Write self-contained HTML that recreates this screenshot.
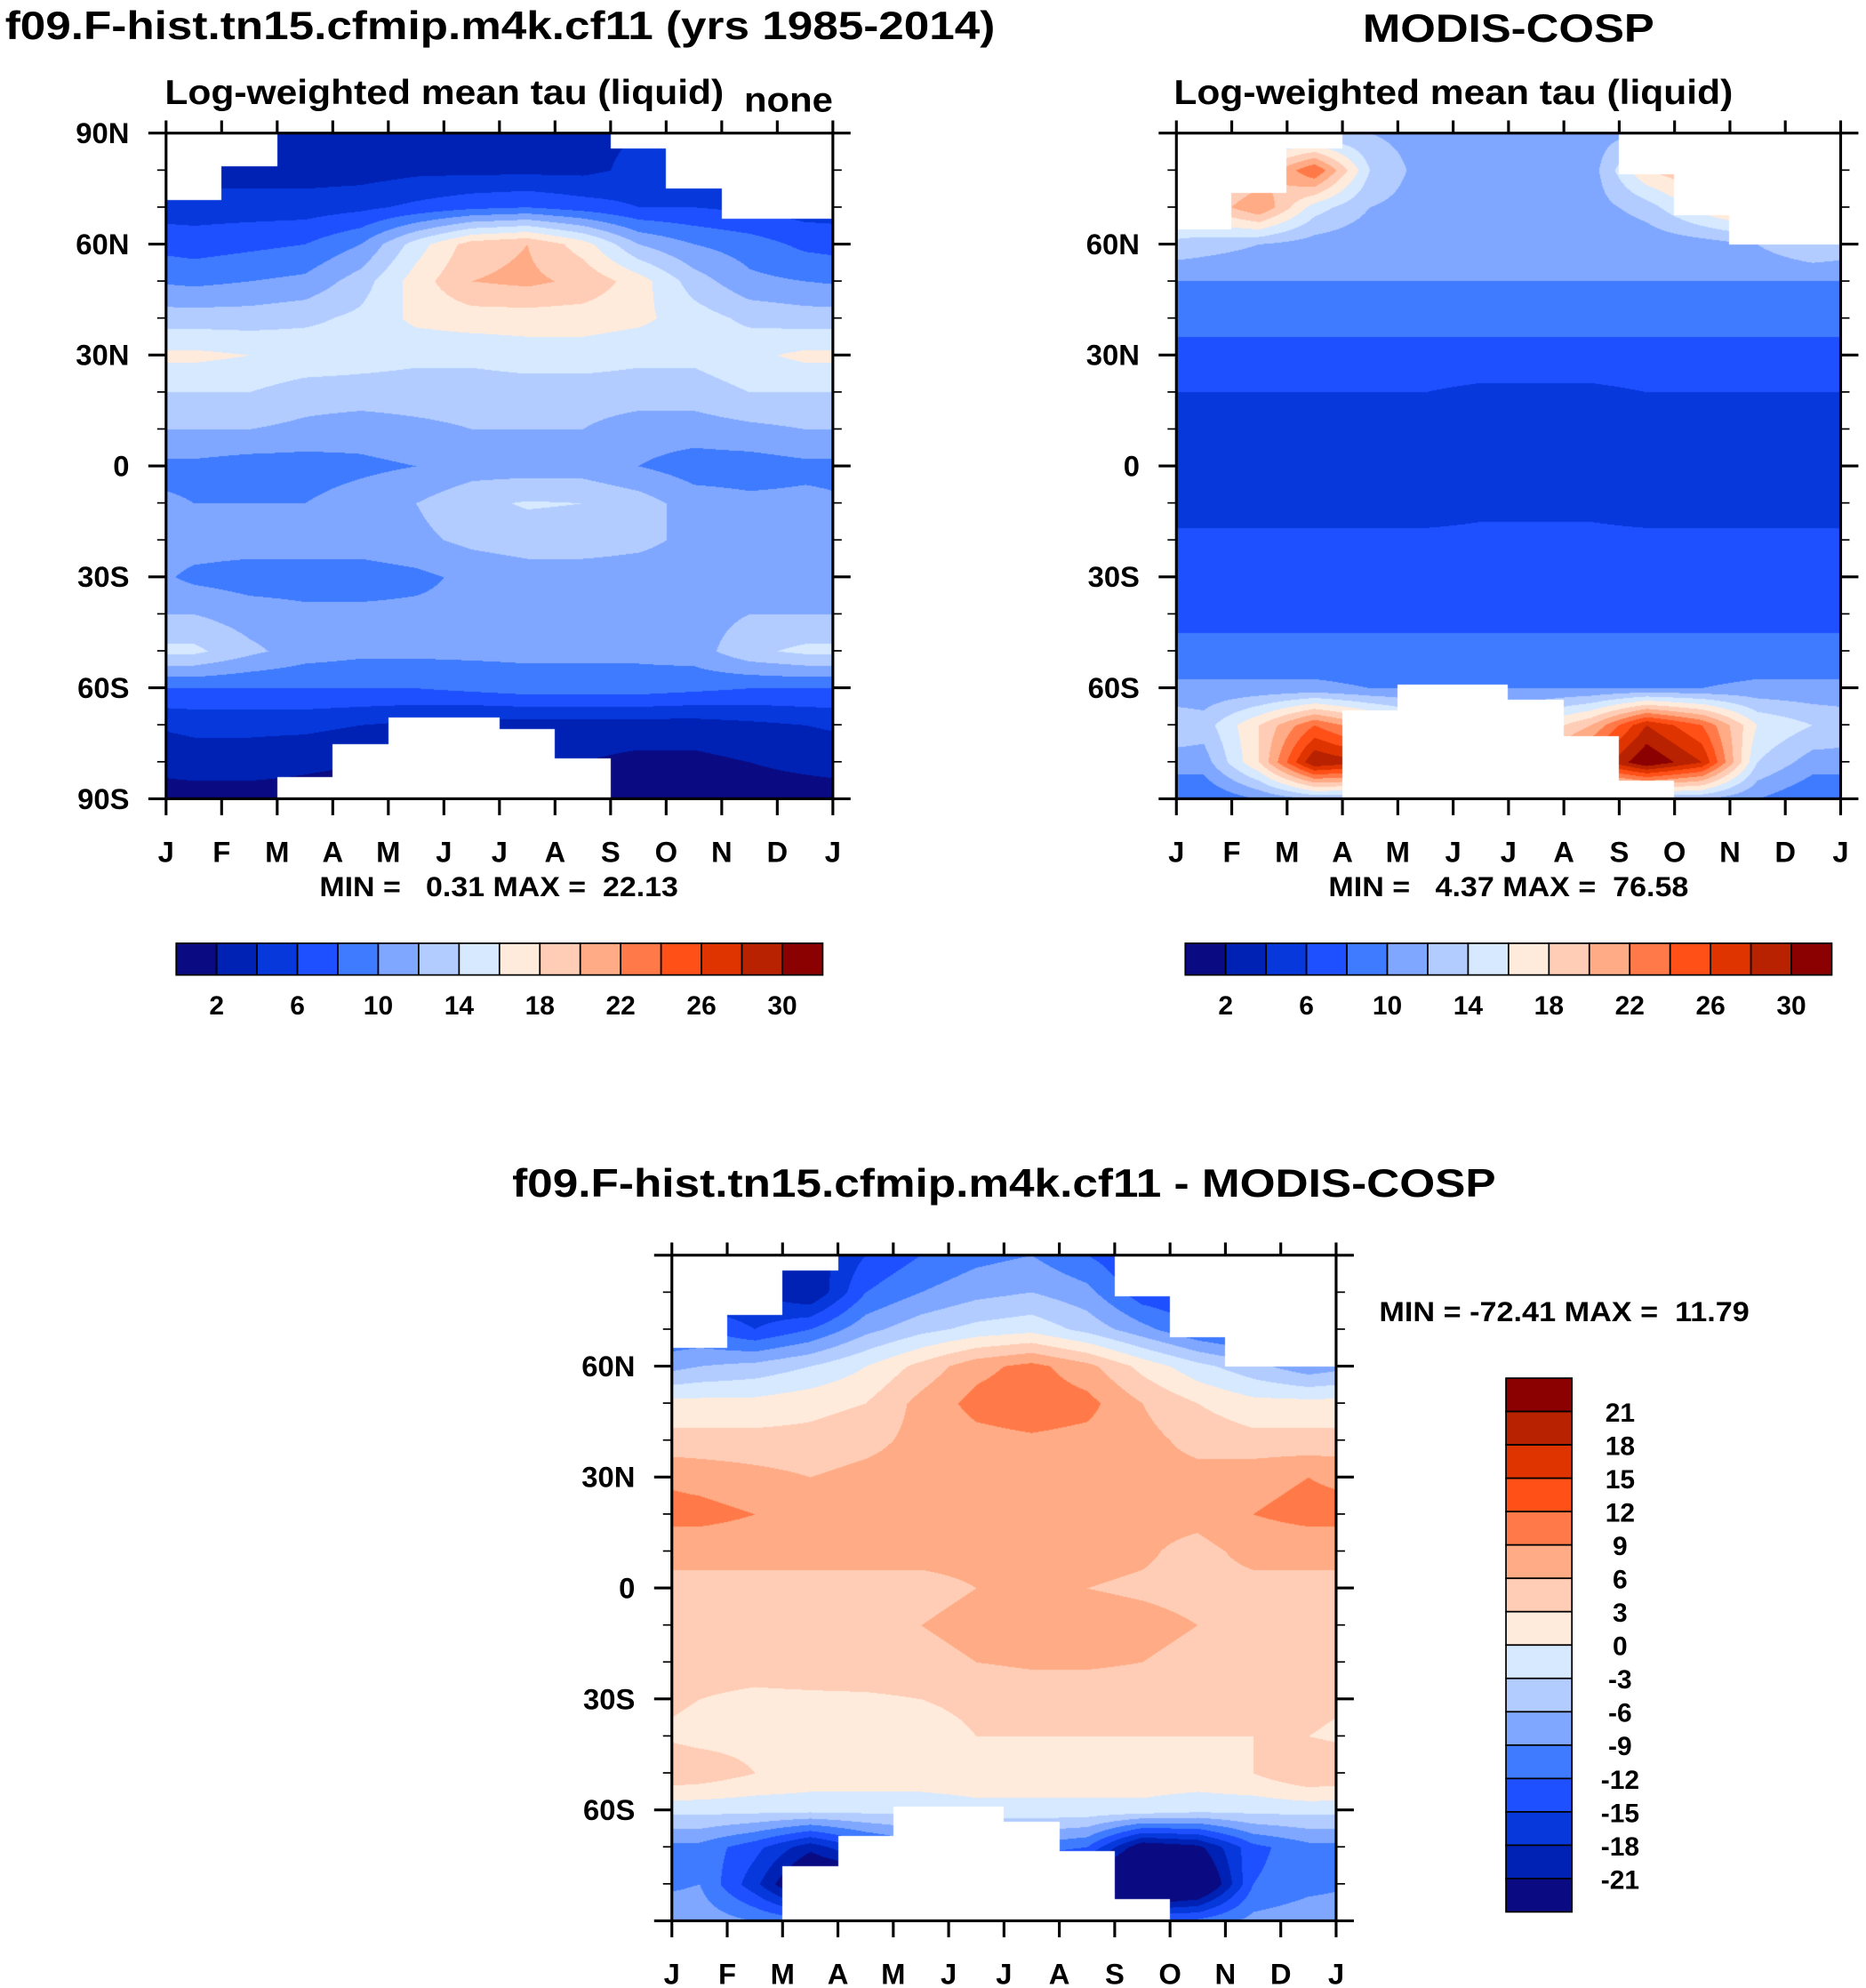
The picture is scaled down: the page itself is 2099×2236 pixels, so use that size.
<!DOCTYPE html>
<html><head><meta charset="utf-8">
<style>
html,body{margin:0;padding:0;background:#fff;}
body{width:2099px;height:2236px;position:relative;overflow:hidden;font-family:"Liberation Sans",sans-serif;}
svg{position:absolute;left:0;top:0;}
canvas{position:absolute;}
text{font-family:"Liberation Sans",sans-serif;font-weight:bold;fill:#000;white-space:pre;}
</style></head>
<body>
<canvas id="c1"></canvas>
<canvas id="c2"></canvas>
<canvas id="c3"></canvas>
<svg id="s" width="2099" height="2236" viewBox="0 0 1472 1568" preserveAspectRatio="none"></svg>
<script>
const months = ["J","F","M","A","M","J","J","A","S","O","N","D","J"];
const lats = [90,80,70,60,50,40,30,20,10,0,-10,-20,-30,-40,-50,-60,-70,-80,-90];
const palette = ["#0a0a82","#0022b4","#0638dc","#1e50ff","#3f7bff","#80a7ff","#b2ccff","#d6e9ff","#ffebdc","#ffcdb5","#ffab85","#ff7a48","#ff5018","#e03400","#b82200","#8b0000"];
const levelsAbs = [2,4,6,8,10,12,14,16,18,20,22,24,26,28,30];
const levelsDiff = [-21,-18,-15,-12,-9,-6,-3,0,3,6,9,12,15,18,21];
const absTickLabels = ["2","6","10","14","18","22","26","30"];
const diffTickLabels = ["21","18","15","12","9","6","3","0","-3","-6","-9","-12","-15","-18","-21"];
const modelVals = [
[2,2,2.5,3,3,3,3,3.5,4,4.5,5,4],
[3,3,3,3,3.5,3.5,3.5,3.5,4.5,5,5,5],
[5,5,5,5.5,6.5,7.5,8,7,6,6,5.5,5],
[7,7.5,8,10,15,19,20,17,12,10,9,7.5],
[9.5,10,10.5,13,17,20,20.5,19.5,17,13,10.5,10],
[13,13,13.5,14.5,16.5,17,17,17,16.5,15,13.5,13],
[16.5,16,15.5,15,14.5,14.5,15,15,14.5,14.5,15.5,16.5],
[14,14,13,13,13,13,13,13,13,13,14,14],
[12,12,11.5,11,11.5,12,12,12,11,11,11.5,12],
[9.5,9,9,9.5,10,11,11,11,10,9,9,9.5],
[10,10,10,11,12,13.5,14.2,14,13,11,10.5,10.5],
[11,11,11,11,11.5,12.5,13,13,12.5,11.5,11,11],
[9.5,9,9,9,9.5,10.5,11,11,11,11,11,11],
[12,11,10.5,10.5,10.5,10.5,10.5,10.5,10.5,11,12,12],
[14.5,12.5,11,10.5,10.5,10.5,10.5,10.5,10.5,11,13.5,14.5],
[8,8,8,8,8,8.5,9,9,9,8.5,8,8],
[4.5,4.5,4.5,4,3.5,3,3,3,3,3,3.5,4],
[3,3,2.5,2,2,2,2,2,1.5,1.5,2,2.5],
[1,1,1,1,1,1,1,1,1,1,1,1]];
const obsVals = [
[12,12,12,12,11,10,10,11,12,12,12,12],
[16,18,24,14,11,10,10,11,18,20,18,18],
[18,22,15,12,11,10,10,11,13,17,20,16],
[13,12,11,10.5,10,10,10,10,10.5,11,12,14],
[10,10,10,10,10,10,10,10,10,10,10,10],
[8.5,8.5,8.5,8.5,8.5,8.5,8.5,8.5,8.5,8.5,8.5,8.5],
[7.5,7.5,7.5,7.5,7.5,7.5,7.5,7.5,7.5,7.5,7.5,7.5],
[6,6,6,6,6,5.5,5.5,5.5,6,6,6,6],
[4.5,4.5,4.5,4.5,4.5,4.5,4.5,4.5,4.5,4.5,4.5,4.5],
[4.5,4.5,4.5,4.5,4.5,4.5,4.5,4.5,4.5,4.5,4.5,4.5],
[5,5,5,5,5,5.5,5.5,5.5,5,5,5,5],
[6.5,6.5,6.5,6.5,6.5,6.5,6.5,6.5,6.5,6.5,6.5,6.5],
[7,7,7,7,7,7,7,7,7,7,7,7],
[7.5,7.5,7.5,7.5,7.5,7.5,7.5,7.5,7.5,7.5,7.5,7.5],
[8.5,8.5,8.5,8.5,8.5,8.5,8.5,8.5,8.5,8.5,8.5,8.5],
[10.5,10.5,10.5,10,10,10,10,10,10,10,10.5,10.5],
[13,18,24,20,16,16,16,20,28,24,16,14],
[11,18,30,28,20,20,20,26,32,28,14,11],
[8,10,12,12,10,10,10,12,12,12,10,8]];
const diffVals = [
[-15,-18,-20,-15,-12,-10,-9,-12,-15,-15,-15,-15],
[-18,-18,-21,-12,-9,-7,-6,-8,-14,-15,-16,-16],
[-12,-15,-12,-7,-4,-2,-1,-4,-8,-12,-14,-12],
[-6,-5,-3,0,4,8,10,7,2,-2,-5,-8],
[1,1,2,3,7,10,11,10,6,3,1,1],
[4,4,4,5,7,8,8.5,8,7,5,4,4],
[8,7,6,7,7.5,7.5,8,8,7,7,8,9],
[10,9,7.5,7,7,7,8,7.5,7,7,9,10],
[7,7,7,7,7,7,7,7,6.5,5,7,7],
[5,5,5,5,5,6,6,6,5.5,5,5,5],
[4.5,4.5,5,5,6,7,7.5,7.5,7,6,5,5],
[4,4,4.5,5,5,6,6.5,6.5,6,5,4.5,4],
[3,2.5,2.5,2.5,3,3.5,4,4,4,4,4,4],
[2,2,2,2,2,3,3,3,3,3,3,3],
[5,3,2,2,2,2,2,2,2,2,3,6],
[-2,-2,-2,-2,-2,-1,-1,-1,-1,-2,-2,-2],
[-10,-14,-20,-14,-10,-10,-10,-12,-24,-22,-13,-10],
[-9,-17,-28,-28,-18,-18,-18,-26,-32,-28,-12,-10],
[-7,-9,-11,-11,-9,-9,-9,-11,-11,-11,-8,-7]];
const mask1N = [72,81,90,90,90,90,90,90,86,75,67,67];
const mask1S = [-90,-90,-84,-75,-68,-68,-71,-79,-90,-90,-90,-90];
const mask2N = [64,74,86,90,90,90,90,90,79,68,60,60];
const mask2S = [-90,-90,-90,-66,-59,-59,-63,-73,-85,-90,-90,-90];
const mask3N = [65,74,86,90,90,90,90,90,79,68,60,60];
const mask3S = [-90,-90,-75,-67,-59,-59,-63,-71,-84,-90,-90,-90];

const K = 2099/1472;
const NS = "http://www.w3.org/2000/svg";
const svg = document.getElementById('s');
function mk(tag, attrs, parent){const e=document.createElementNS(NS,tag);for(const k in attrs)e.setAttribute(k,attrs[k]);(parent||svg).appendChild(e);return e;}
function txt(x,y,s,size,anchor,name,len){const a={x:x,y:y,'font-size':size,'text-anchor':anchor||'start'};
if(len){a.textLength=len;a.lengthAdjust='spacingAndGlyphs';}
const t=mk('text',a);t.textContent=s;


return t;}
function hexRGB(h){return [parseInt(h.substr(1,2),16),parseInt(h.substr(3,2),16),parseInt(h.substr(5,2),16)];}
const palRGB = palette.map(hexRGB);

function levelIndex(v, levels){let i=0;while(i<levels.length && v>=levels[i])i++;return i;}

function sample(vals, mf, lat){
  let u = mf-0.5; let i0=Math.floor(u); let fu=u-i0;
  let a=((i0%12)+12)%12, b=(((i0+1)%12)+12)%12;
  let r = (90-lat)/10; let j0=Math.floor(r); if(j0>=18){j0=17;} if(j0<0)j0=0; let fr=r-j0;
  const v00=vals[j0][a],v01=vals[j0][b],v10=vals[j0+1][a],v11=vals[j0+1][b];
  return (v00*(1-fu)+v01*fu)*(1-fr)+(v10*(1-fu)+v11*fu)*fr;
}

function panel(cfg){
  const {x0,y0,w,h,vals,levels,mN,mS,canvasId,yLabels,name} = cfg;
  const xS = m => x0 + m/12*w;
  const yS = lat => y0 + (90-lat)/180*h;
  const cv=document.getElementById(canvasId);
  const px=Math.round(x0*K), py=Math.round(y0*K), pw=Math.round(w*K), ph=Math.round(h*K);
  cv.style.left=px+'px';cv.style.top=py+'px';cv.width=pw;cv.height=ph;
  const ctx=cv.getContext('2d');const img=ctx.createImageData(pw,ph);
  for(let yy=0;yy<ph;yy++){
    const lat=90-(yy+0.5)/ph*180;
    for(let xx=0;xx<pw;xx++){
      const mf=(xx+0.5)/pw*12; const mi=Math.min(11,Math.floor(mf));
      let c=[255,255,255];
      if(lat<=mN[mi] && lat>=mS[mi]){
        c=palRGB[Math.min(15,levelIndex(sample(vals,mf,lat),levels))];
      }
      const o=(yy*pw+xx)*4;img.data[o]=c[0];img.data[o+1]=c[1];img.data[o+2]=c[2];img.data[o+3]=255;
    }
  }
  ctx.putImageData(img,0,0);
  const g=mk('g',{});
  
  
  mk('rect',{x:x0,y:y0,width:w,height:h,fill:'none',stroke:'#000','stroke-width':2.2},g);
  for(let m=0;m<=12;m++){
    const x=xS(m);
    mk('line',{x1:x,y1:y0,x2:x,y2:y0-10,stroke:'#000','stroke-width':2.2},g);
    mk('line',{x1:x,y1:y0+h,x2:x,y2:y0+h+13,stroke:'#000','stroke-width':2.2},g);
    txt(x,y0+h+50,months[m],23,'middle',name+'-x-label');
  }
  for(let lat=-90;lat<=90;lat+=10){
    const y=yS(lat); const major=(lat%30===0); const L=major?14:7;
    mk('line',{x1:x0,y1:y,x2:x0-L,y2:y,stroke:'#000','stroke-width':major?2.2:1.2},g);
    mk('line',{x1:x0+w,y1:y,x2:x0+w+L,y2:y,stroke:'#000','stroke-width':major?2.2:1.2},g);
  }
  yLabels.forEach(l=>{txt(x0-29,yS(l.lat)+8,l.t,23,'end',name+'-y-label');});
  return {xS,yS};
}

const ylFull=[{lat:90,t:"90N"},{lat:60,t:"60N"},{lat:30,t:"30N"},{lat:0,t:"0"},{lat:-30,t:"30S"},{lat:-60,t:"60S"},{lat:-90,t:"90S"}];
const ylPart=[{lat:60,t:"60N"},{lat:30,t:"30N"},{lat:0,t:"0"},{lat:-30,t:"30S"},{lat:-60,t:"60S"}];

panel({x0:131,y0:105,w:526,h:525,vals:modelVals,levels:levelsAbs,mN:mask1N,mS:mask1S,canvasId:'c1',yLabels:ylFull,name:'model'});
panel({x0:928,y0:105,w:524,h:525,vals:obsVals,levels:levelsAbs,mN:mask2N,mS:mask2S,canvasId:'c2',yLabels:ylPart,name:'obs'});
panel({x0:530,y0:990,w:524,h:525,vals:diffVals,levels:levelsDiff,mN:mask3N,mS:mask3S,canvasId:'c3',yLabels:ylPart,name:'diff'});

txt(4,31,"f09.F-hist.tn15.cfmip.m4k.cf11 (yrs 1985-2014)",31,'start','model-title',781);
txt(130,82,"Log-weighted mean tau (liquid)",27,'start','model-subtitle',441);
txt(657,88,"none",27,'end','model-units',70);
txt(252,707,"MIN =   0.31 MAX =  22.13",22,'start','model-min-max',283);
txt(1075,33,"MODIS-COSP",31,'start','obs-title',230);
txt(926,82,"Log-weighted mean tau (liquid)",27,'start','obs-subtitle',441);
txt(1048,707,"MIN =   4.37 MAX =  76.58",22,'start','obs-min-max',284);
txt(404,944,"f09.F-hist.tn15.cfmip.m4k.cf11 - MODIS-COSP",31,'start','diff-title',776);
txt(1088,1042,"MIN = -72.41 MAX =  11.79",22,'start','diff-min-max',292);

function hbar(x0,y0,w,h,name){
  const g=mk('g',{});
  
  
  const bw=w/palette.length;
  palette.forEach((c,i)=>{mk('rect',{x:x0+i*bw,y:y0,width:bw,height:h,fill:c,stroke:'#000','stroke-width':1.2},g);});
  absTickLabels.forEach((s,k)=>{txt(x0+(2*k+1)*bw,y0+h+31,s,21,'middle',name+'-label');});
}
hbar(139,744,510,25,'model-colorbar');
hbar(935,744,510,25,'obs-colorbar');
(function(){
  const x0=1188,y0=1087,w=52,h=421;
  const g=mk('g',{});
  
  
  const bh=h/palette.length;
  for(let i=0;i<palette.length;i++){
    mk('rect',{x:x0,y:y0+i*bh,width:w,height:bh,fill:palette[palette.length-1-i],stroke:'#000','stroke-width':1.2},g);
  }
  diffTickLabels.forEach((s,k)=>{txt(x0+w+38,y0+(k+1)*bh+8,s,21,'middle','diff-colorbar-label');});
})();
</script>
</body></html>
